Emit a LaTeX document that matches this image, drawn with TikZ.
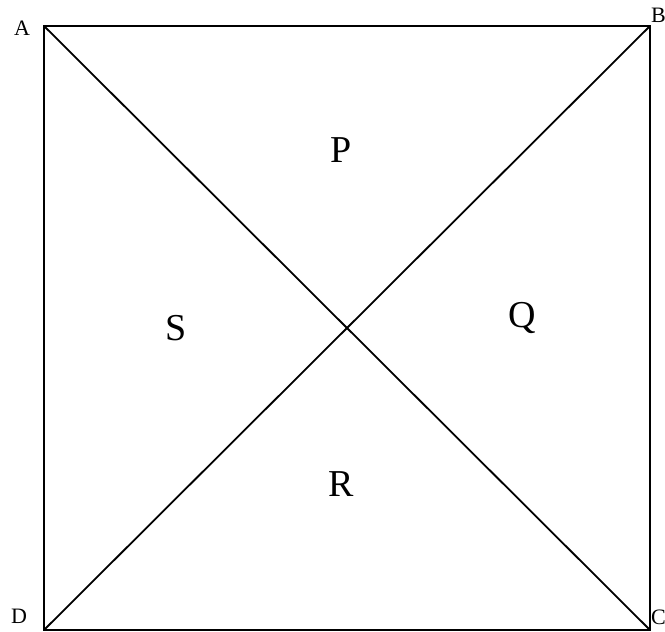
\documentclass[tikz,border=0pt]{standalone}
\usepackage{fontspec}
\setmainfont{Liberation Serif}
\begin{document}
\begin{tikzpicture}[x=1pt,y=1pt,
  corner/.style={inner sep=0pt,font=\fontsize{22}{22}\selectfont},
  region/.style={inner sep=0pt,font=\fontsize{38}{38}\selectfont},
  edge/.style={line width=1.8pt}]
\useasboundingbox (0,0) rectangle (665,632);
\coordinate (a) at (44,606);
\coordinate (b) at (650,606);
\coordinate (c) at (650,2);
\coordinate (d) at (44,2);
\draw[edge] (a) -- (b) -- (c) -- (d) -- cycle;
\draw[edge] (a) -- (c);
\draw[edge] (b) -- (d);
\node[corner] (la) at (22,604) {A};
\node[corner,anchor=west] (lb) at (651,617) {B};
\node[corner,anchor=west] (lc) at (651,15) {C};
\node[corner] (ld) at (19,16) {D};
\node[region] (p) at (341,482) {P};
\node[region] (q) at (522,314) {Q};
\node[region] (s) at (176,304) {S};
\node[region] (r) at (341,148) {R};
\end{tikzpicture}
\end{document}
